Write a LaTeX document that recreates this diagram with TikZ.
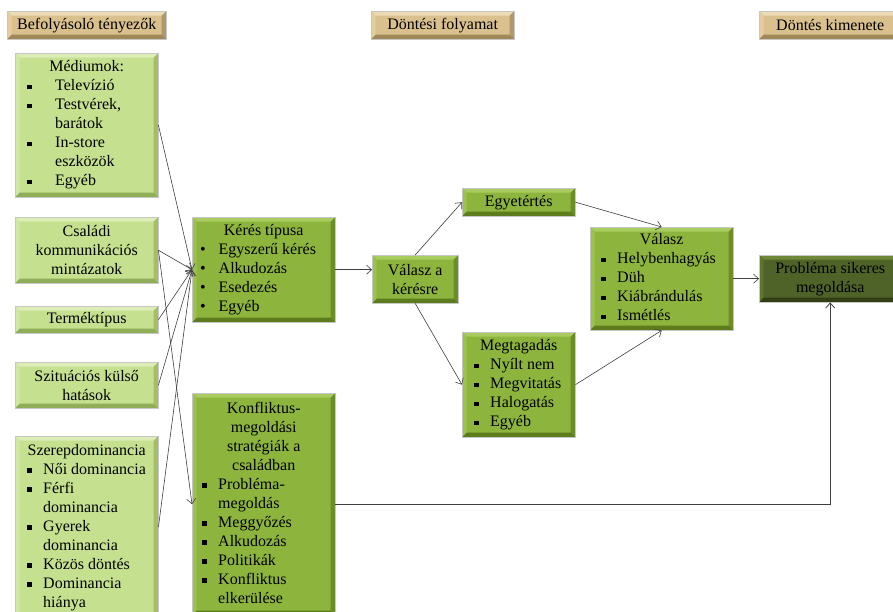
\documentclass[tikz,border=0pt]{standalone}
\usepackage{fontspec}
\setmainfont{Liberation Serif}
\usepackage{array}
\usetikzlibrary{arrows.meta,calc}

\definecolor{lgF}{HTML}{C5E08E}\definecolor{lgT}{HTML}{DCEDB6}\definecolor{lgL}{HTML}{D2E7A4}\definecolor{lgR}{HTML}{A0BF66}\definecolor{lgB}{HTML}{90AE58}
\definecolor{mgF}{HTML}{8DB43C}\definecolor{mgT}{HTML}{A8CC5E}\definecolor{mgL}{HTML}{9CC24C}\definecolor{mgR}{HTML}{6B8E26}\definecolor{mgB}{HTML}{5C7C1E}
\definecolor{dgF}{HTML}{4F6228}\definecolor{dgT}{HTML}{6E8838}\definecolor{dgL}{HTML}{5E7530}\definecolor{dgR}{HTML}{3C4B1C}\definecolor{dgB}{HTML}{323F16}
\definecolor{hdF}{HTML}{D9C08C}\definecolor{hdT}{HTML}{ECDCB6}\definecolor{hdL}{HTML}{E3CEA2}\definecolor{hdR}{HTML}{B09868}\definecolor{hdB}{HTML}{A08858}

\newcommand\sqb{\rule[1.5pt]{4.5pt}{4.5pt}}
\newcommand\rdb{\textbullet}
\def\bw{4.5pt}

\tikzset{
  bevel/.style n args={5}{fill=#1, draw=black!22, line width=0.4pt,
    path picture={
      \coordinate (q1) at (path picture bounding box.north west);
      \coordinate (q2) at (path picture bounding box.north east);
      \coordinate (q3) at (path picture bounding box.south east);
      \coordinate (q4) at (path picture bounding box.south west);
      \fill[#2] (q1) -- (q2) -- ($(q2)+(-\bw,-\bw)$) -- ($(q1)+(\bw,-\bw)$) -- cycle;
      \fill[#3] (q1) -- ($(q1)+(\bw,-\bw)$) -- ($(q4)+(\bw,\bw)$) -- (q4) -- cycle;
      \fill[#4] (q2) -- (q3) -- ($(q3)+(-\bw,\bw)$) -- ($(q2)+(-\bw,-\bw)$) -- cycle;
      \fill[#5] (q4) -- (q3) -- ($(q3)+(-\bw,\bw)$) -- ($(q4)+(\bw,\bw)$) -- cycle;
    }},
  boxbase/.style={anchor=north west, inner sep=0pt, align=center,
    font=\fontsize{16}{19}\selectfont, text=black},
  lightbox/.style={boxbase, bevel={lgF}{lgT}{lgL}{lgR}{lgB}},
  midbox/.style={boxbase, bevel={mgF}{mgT}{mgL}{mgR}{mgB}},
  darkbox/.style={boxbase, bevel={dgF}{dgT}{dgL}{dgR}{dgB}},
  hdrbox/.style={boxbase, bevel={hdF}{hdT}{hdL}{hdR}{hdB}},
  conn/.style={draw=black!75, line width=0.6pt, -{Straight Barb[length=5pt,width=9pt]}},
  flow/.style={draw=black!75, line width=0.8pt, -{Straight Barb[length=5pt,width=9pt]}}
}

\begin{document}
\begin{tikzpicture}[x=1pt,y=-1pt]
\useasboundingbox[fill=white] (0,0) rectangle (893,612);

% headers
\node[hdrbox, minimum width=159pt, minimum height=28pt] (h1) at (7,11) {Befolyásoló tényezők};
\node[hdrbox, minimum width=143pt, minimum height=28pt] (h2) at (371,11) {Döntési folyamat};
\node[hdrbox, minimum width=142pt, minimum height=28pt] (h3) at (759,11) {Döntés kimenete};

% left column
\node[lightbox, minimum width=143pt, minimum height=144pt] (med) at (15,53) {%
\begin{tabular}{@{\hspace{12pt}}p{28pt}@{}p{103pt}@{}}
\multicolumn{2}{@{}c@{}}{Médiumok:}\\
\sqb & Televízió\\
\sqb & Testvérek,\\
 & barátok\\
\sqb & In-store\\
 & eszközök\\
\sqb & Egyéb
\end{tabular}};

\node[lightbox, minimum width=143pt, minimum height=66pt] (csal) at (15,217) {Családi\\kommunikációs\\mintázatok};
\node[lightbox, minimum width=143pt, minimum height=27pt] (term) at (15,306) {Terméktípus};
\node[lightbox, minimum width=143pt, minimum height=46pt] (szit) at (15,362) {Szituációs külső\\hatások};

\node[lightbox, minimum width=143pt, minimum height=182pt] (szer) at (15,436) {%
\begin{tabular}{@{\hspace{12pt}}p{16pt}@{}p{115pt}@{}}
\multicolumn{2}{@{}c@{}}{Szerepdominancia}\\
\sqb & Női dominancia\\
\sqb & Férfi\\
 & dominancia\\
\sqb & Gyerek\\
 & dominancia\\
\sqb & Közös döntés\\
\sqb & Dominancia\\
 & hiánya
\end{tabular}};

% second column
\node[midbox, minimum width=143pt, minimum height=105pt] (keres) at (192,217) {%
\begin{tabular}{@{\hspace{8pt}}p{18.5pt}@{}p{116.5pt}@{}}
\multicolumn{2}{@{}c@{}}{Kérés típusa}\\
\rdb & Egyszerű kérés\\
\rdb & Alkudozás\\
\rdb & Esedezés\\
\rdb & Egyéb
\end{tabular}};

\node[midbox, minimum width=143pt, minimum height=222pt] (konf) at (192,393) {%
\begin{tabular}{@{\hspace{10pt}}p{16pt}@{}p{117pt}@{}}
\multicolumn{2}{@{}c@{}}{Konfliktus-}\\
\multicolumn{2}{@{}c@{}}{megoldási}\\
\multicolumn{2}{@{}c@{}}{stratégiák a}\\
\multicolumn{2}{@{}c@{}}{családban}\\
\sqb & Probléma-\\
 & megoldás\\
\sqb & Meggyőzés\\
\sqb & Alkudozás\\
\sqb & Politikák\\
\sqb & Konfliktus\\
 & elkerülése
\end{tabular}};

% process
\node[midbox, minimum width=86pt, minimum height=48pt] (vak) at (372,255) {Válasz a\\kérésre};
\node[midbox, minimum width=113pt, minimum height=28pt] (egy) at (462,188) {Egyetértés};
\node[midbox, minimum width=113pt, minimum height=105pt] (megt) at (462,332) {%
\begin{tabular}{@{\hspace{12pt}}p{16pt}@{}p{85pt}@{}}
\multicolumn{2}{@{}c@{}}{Megtagadás}\\
\sqb & Nyílt nem\\
\sqb & Megvitatás\\
\sqb & Halogatás\\
\sqb & Egyéb
\end{tabular}};

\node[midbox, minimum width=143pt, minimum height=103pt] (val) at (590,227) {%
\begin{tabular}{@{\hspace{11pt}}p{16pt}@{}p{116pt}@{}}
\multicolumn{2}{@{}c@{}}{Válasz}\\
\sqb & Helybenhagyás\\
\sqb & Düh\\
\sqb & Kiábrándulás\\
\sqb & Ismétlés
\end{tabular}};

\node[darkbox, minimum width=142pt, minimum height=47pt] (prob) at (759,255) {Probléma sikeres\\megoldása};

% connectors
\draw[conn] (med.east) -- (keres.west);
\draw[conn] (csal.east) -- (keres.west);
\draw[conn] (csal.east) -- (konf.west);
\draw[conn] (term.east) -- (keres.west);
\draw[conn] (szit.east) -- (keres.west);
\draw[conn] (szer.east) -- (keres.west);
\draw[conn] (keres.east) -- (keres.east -| vak.west);
\draw[conn] (vak.north) -- (egy.west);
\draw[conn] (vak.south) -- (megt.west);
\draw[conn] (egy.east) -- (val.north);
\draw[conn] (megt.east) -- (val.south);
\draw[conn] (val.east) -- (prob.west);
\draw[flow] (konf.east) -| (prob.south);
\end{tikzpicture}
\end{document}
